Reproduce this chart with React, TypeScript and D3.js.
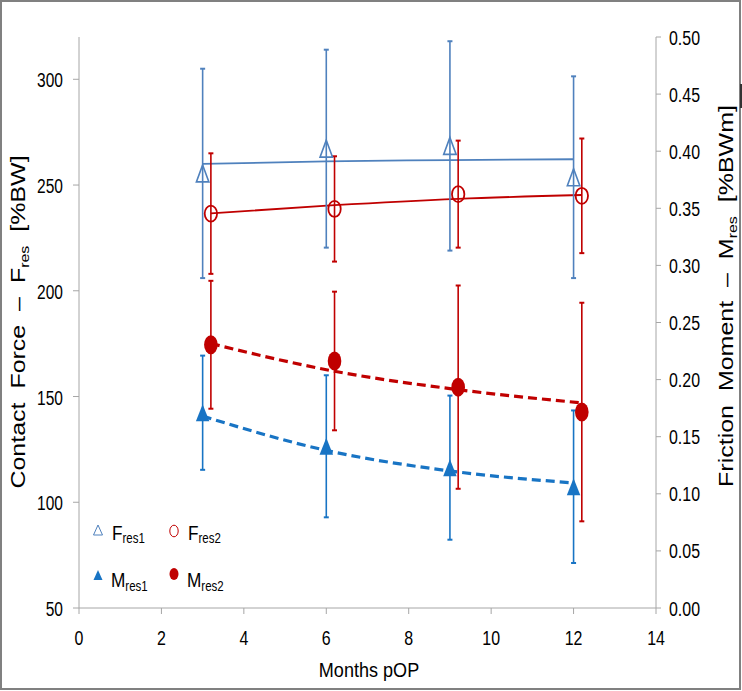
import React from 'react';
import * as d3 from 'd3';

const monthsA = [3, 6, 9, 12];
const monthsB = [3.2, 6.2, 9.2, 12.2];
const fres1Mean = [255.5, 267.2, 268.5, 253.7];
const fres1Sd = [49.5, 46.8, 49.5, 47.7];
const fres2Mean = [236.5, 238.7, 245.7, 244.9];
const fres2Sd = [28.5, 24.9, 25.3, 27.1];
const mres1Mean = [0.171, 0.1416, 0.1229, 0.1062];
const mres1Sd = [0.05, 0.0622, 0.0631, 0.0668];
const mres2Mean = [0.2305, 0.2163, 0.1934, 0.1716];
const mres2Sd = [0.056, 0.0607, 0.089, 0.0957];
const fres1Trend = [260, 261.2, 261.8, 262.2];
const fres2Trend = [236.6, 240.5, 243.5, 245.3];
const mres1Trend = [0.168, 0.138, 0.12, 0.1095];
const mres2Trend = [0.2316, 0.2073, 0.1912, 0.1796];
const xTicks = [0, 2, 4, 6, 8, 10, 12, 14];
const leftTicks = [50, 100, 150, 200, 250, 300];
const rightTicks = [0, 0.05, 0.1, 0.15, 0.2, 0.25, 0.3, 0.35, 0.4, 0.45, 0.5];

const W = 742;
const H = 691;
const FONT = "'Liberation Sans', Arial, sans-serif";
const BLUE_F = '#4f81bd';
const BLUE_M = '#1874c4';
const RED = '#c00000';
const AXIS = '#a6a6a6';

const x = d3.scaleLinear().domain([0, 14]).range([79, 656]);
const yL = d3.scaleLinear().domain([50, 320]).range([608, 37]);
const yR = d3.scaleLinear().domain([0, 0.5]).range([608, 37]);

function triPath(w: number, h: number) {
  const p = d3.path();
  p.moveTo(0, -h / 2);
  p.lineTo(w / 2, h / 2);
  p.lineTo(-w / 2, h / 2);
  p.closePath();
  return p.toString();
}

function ErrorBars({ xs, means, sds, y, color }: any) {
  return (
    <g stroke={color} strokeWidth={1.6}>
      {xs.map((xv: number, i: number) => {
        const cx = x(xv);
        const top = y(means[i] + sds[i]);
        const bot = y(means[i] - sds[i]);
        return (
          <g key={i}>
            <line x1={cx} x2={cx} y1={top} y2={bot} />
            <line x1={cx - 2.5} x2={cx + 2.5} y1={top} y2={top} strokeWidth={2} />
            <line x1={cx - 2.5} x2={cx + 2.5} y1={bot} y2={bot} strokeWidth={2} />
          </g>
        );
      })}
    </g>
  );
}

function TrendLine({ xs, vals, y, color, dashed }: any) {
  const line = d3
    .line<number>()
    .x((_, i) => x(xs[i]))
    .y((d) => y(d))
    .curve(d3.curveMonotoneX);
  return (
    <path
      d={line(vals) || ''}
      fill="none"
      stroke={color}
      strokeWidth={dashed ? 3.2 : 1.8}
      strokeDasharray={dashed ? '9 5' : undefined}
    />
  );
}

function SText({ tx, ty, s, fs, anchor, rot, children, fill }: any) {
  return (
    <text
      transform={`translate(${tx},${ty}) scale(${s},1)${rot ? ' rotate(-90)' : ''}`}
      fontSize={fs}
      textAnchor={anchor || 'start'}
      fontFamily={FONT}
      fill={fill || '#000'}
      style={{ whiteSpace: 'pre' }}
    >
      {children}
    </text>
  );
}

export default function App() {
  return (
    <div style={{ position: 'absolute', left: 0, top: 0 }}>
      <svg width={W} height={H} style={{ display: 'block', background: '#fff' }}>
        <rect x={1} y={1} width={739} height={688} fill="#fff" stroke="#808080" strokeWidth={2} />
        <line x1={741} x2={741} y1={84} y2={108} stroke="#333" strokeWidth={2} />

        {/* axes */}
        <g stroke={AXIS} strokeWidth={1} fill="none">
          <line x1={x(0)} x2={x(0)} y1={yL(320)} y2={yL(50)} />
          <line x1={x(14)} x2={x(14)} y1={yR(0.5)} y2={yR(0)} />
          <line x1={x(0)} x2={x(14)} y1={yL(50)} y2={yL(50)} />
          {leftTicks.map((t) => (
            <line key={t} x1={x(0) - 6} x2={x(0)} y1={yL(t)} y2={yL(t)} />
          ))}
          {rightTicks.map((t) => (
            <line key={t} x1={x(14)} x2={x(14) + 5} y1={yR(t)} y2={yR(t)} />
          ))}
          {xTicks.map((t) => (
            <line key={t} x1={x(t)} x2={x(t)} y1={yL(50)} y2={yL(50) + 6} />
          ))}
        </g>

        {/* tick labels */}
        {leftTicks.map((t) => (
          <SText key={t} tx={63} ty={yL(t) + 8} s={0.74} fs={21} anchor="end">
            {String(t)}
          </SText>
        ))}
        {rightTicks.map((t) => (
          <SText key={t} tx={669} ty={yR(t) + 7.5} s={0.76} fs={21}>
            {t.toFixed(2)}
          </SText>
        ))}
        {xTicks.map((t) => (
          <SText key={t} tx={x(t)} ty={645} s={0.76} fs={21} anchor="middle">
            {String(t)}
          </SText>
        ))}

        {/* axis titles */}
        <SText tx={25} ty={322} s={0.8} fs={25} anchor="middle" rot>
          {'Contact  Force  \u2013  F'}
          <tspan fontSize={16} dy={5}>res</tspan>
          <tspan dy={-5}>{'  [%BW]'}</tspan>
        </SText>
        <SText tx={733} ty={296} s={0.8} fs={25} anchor="middle" rot>
          {'Friction  Moment  \u2013  M'}
          <tspan fontSize={16} dy={5}>res</tspan>
          <tspan dy={-5}>{'  [%BWm]'}</tspan>
        </SText>
        <SText tx={369} ty={677} s={0.86} fs={21} anchor="middle">
          Months pOP
        </SText>

        {/* trend lines */}
        <TrendLine xs={monthsA} vals={fres1Trend} y={yL} color={BLUE_F} />
        <TrendLine xs={monthsB} vals={fres2Trend} y={yL} color={RED} />
        <TrendLine xs={monthsA} vals={mres1Trend} y={yR} color={BLUE_M} dashed />
        <TrendLine xs={monthsB} vals={mres2Trend} y={yR} color={RED} dashed />

        {/* error bars */}
        <ErrorBars xs={monthsA} means={fres1Mean} sds={fres1Sd} y={yL} color={BLUE_F} />
        <ErrorBars xs={monthsB} means={fres2Mean} sds={fres2Sd} y={yL} color={RED} />
        <ErrorBars xs={monthsA} means={mres1Mean} sds={mres1Sd} y={yR} color={BLUE_M} />
        <ErrorBars xs={monthsB} means={mres2Mean} sds={mres2Sd} y={yR} color={RED} />

        {/* markers */}
        {monthsA.map((m, i) => (
          <path
            key={'f1' + i}
            d={triPath(12.5, 17)}
            transform={`translate(${x(m)},${yL(fres1Mean[i])})`}
            fill="none"
            stroke={BLUE_F}
            strokeWidth={1.6}
          />
        ))}
        {monthsB.map((m, i) => (
          <ellipse
            key={'f2' + i}
            cx={x(m)}
            cy={yL(fres2Mean[i])}
            rx={6.2}
            ry={8}
            fill="none"
            stroke={RED}
            strokeWidth={1.8}
          />
        ))}
        {monthsA.map((m, i) => (
          <path
            key={'m1' + i}
            d={triPath(13.5, 17)}
            transform={`translate(${x(m)},${yR(mres1Mean[i])})`}
            fill={BLUE_M}
          />
        ))}
        {monthsB.map((m, i) => (
          <ellipse
            key={'m2' + i}
            cx={x(m)}
            cy={yR(mres2Mean[i])}
            rx={6.8}
            ry={9.5}
            fill={RED}
          />
        ))}

        {/* legend */}
        <path d={triPath(9, 10)} transform="translate(98,530)" fill="none" stroke={BLUE_F} strokeWidth={1} />
        <SText tx={112} ty={540} s={0.82} fs={21}>
          F<tspan fontSize={14} dy={3}>res1</tspan>
        </SText>
        <ellipse cx={174} cy={531} rx={4.2} ry={5.8} fill="none" stroke={RED} strokeWidth={1} />
        <SText tx={188} ty={540} s={0.82} fs={21}>
          F<tspan fontSize={14} dy={3}>res2</tspan>
        </SText>
        <path d={triPath(9, 10)} transform="translate(98,575)" fill={BLUE_M} />
        <ellipse cx={174} cy={574} rx={4.5} ry={6} fill={RED} />
        <SText tx={111} ty={587} s={0.82} fs={21}>
          M<tspan fontSize={14} dy={4}>res1</tspan>
        </SText>
        <SText tx={187} ty={587} s={0.82} fs={21}>
          M<tspan fontSize={14} dy={4}>res2</tspan>
        </SText>
      </svg>
    </div>
  );
}
